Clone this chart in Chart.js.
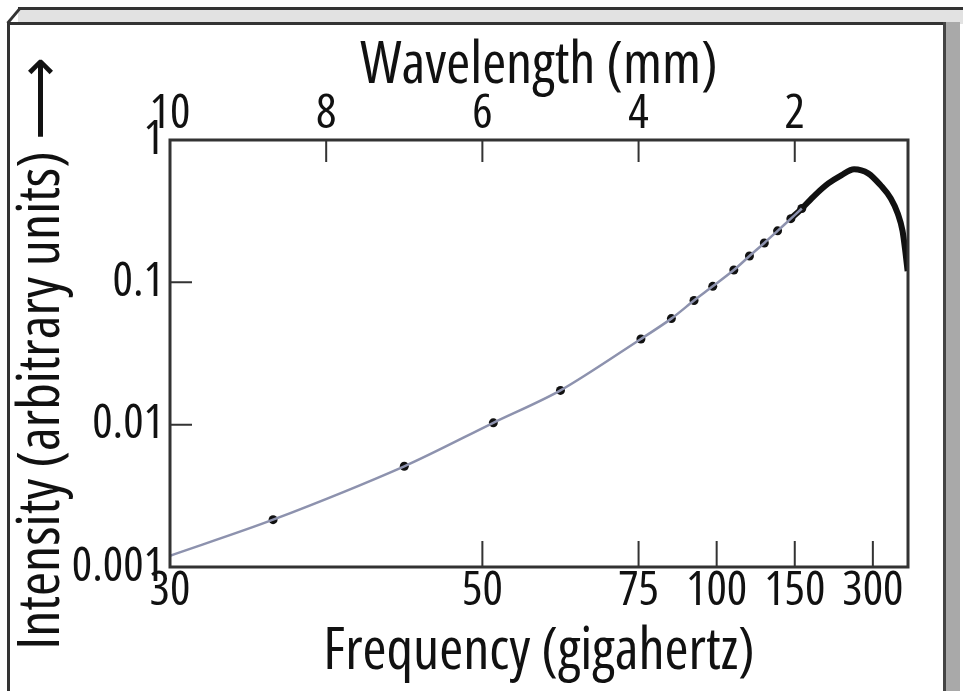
<!DOCTYPE html>
<html>
<head>
<meta charset="utf-8">
<script src="https://cdn.jsdelivr.net/npm/chart.js@4"></script>
<style>
  html, body { margin: 0; padding: 0; background: #fff; }
  #wrap { position: relative; width: 963px; height: 691px; overflow: hidden; }
  /* bevelled panel around the figure */
  .bevel-top { position: absolute; left: 18px; top: 7px; width: 945px; height: 14px; background: #e2e2e2; border-top: 3px solid #333; }
  .corner { position: absolute; left: 4px; top: 14px; width: 20px; height: 3px; background: #333; transform: rotate(-50deg); }
  .frame { position: absolute; left: 7px; top: 22px; width: 936px; height: 680px; border-left: 3px solid #333; border-top: 3px solid #333; }
  .bevel-right { position: absolute; left: 943px; top: 22px; width: 14px; height: 680px; background: #a9a9a9; border-left: 3px solid #444; }
  canvas { position: absolute; left: 0; top: 0; }
</style>
</head>
<body>
<div id="wrap">
  <div class="bevel-top"></div>
  <div class="corner"></div>
  <div class="frame"></div>
  <div class="bevel-right"></div>
  <canvas id="chart" width="963" height="691"></canvas>
</div>
<script>
// Axis ticks
const wavelengthTicks = [10, 8, 6, 4, 2];          // mm, top axis
const frequencyTicks = [30, 50, 75, 100, 150, 300]; // GHz, bottom axis
const intensityTicks = [1, 0.1, 0.01, 0.001];

// Thin curve with measured points (wavelength in mm)
const curveWavelength = [10, 8.68, 7.0, 5.86, 5.0, 3.97, 3.58, 3.29, 3.05, 2.78, 2.58, 2.39, 2.22, 2.05, 1.91];
const curveIntensity = [0.0012, 0.00215, 0.0051, 0.0103, 0.0174, 0.040, 0.0556, 0.0745, 0.0937, 0.122, 0.153, 0.189, 0.23, 0.28, 0.33];
const dotWavelength = [8.68, 7.0, 5.86, 5.0, 3.97, 3.58, 3.29, 3.05, 2.78, 2.58, 2.39, 2.22, 2.05, 1.91];
const dotIntensity = [0.00215, 0.0051, 0.0103, 0.0174, 0.040, 0.0556, 0.0745, 0.0937, 0.122, 0.153, 0.189, 0.23, 0.28, 0.33];

// Thick black section around the peak
const peakWavelength = [2.05, 1.91, 1.747, 1.57, 1.405, 1.24, 1.06, 0.90, 0.77, 0.68, 0.62, 0.58, 0.555];
const peakIntensity = [0.28, 0.33, 0.407, 0.495, 0.565, 0.623, 0.583, 0.48, 0.388, 0.303, 0.23, 0.158, 0.12];

const C_MM_GHZ = 300; // wavelength(mm) = 300 / frequency(GHz)

// The original uses a narrow sans; pick an installed narrow face and size it to fit
function pickFont() {
  const ctx = document.createElement('canvas').getContext('2d');
  const sample = 'Frequency (gigahertz)';
  const w = f => { ctx.font = f; return ctx.measureText(sample).width; };
  const candidates = [
    { family: "'Liberation Sans Narrow'", weight: 'normal' },
    { family: "'Arial Narrow'", weight: 'normal' },
    { family: "'Noto Sans'", weight: 'normal condensed' },
    { family: "'Open Sans'", weight: 'normal condensed' },
    { family: "'Liberation Sans'", weight: 'normal' }
  ];
  for (const c of candidates) {
    const base = w('56px ' + c.family + ', monospace');
    if (base === w('56px monospace')) continue;
    const width = w(c.weight + ' 56px ' + c.family + ', monospace');
    if (c.weight !== 'normal' && width > 0.96 * base) continue;
    return { family: c.family + ", 'Liberation Sans', sans-serif", weight: c.weight, ratio: width / 56 };
  }
  return { family: 'sans-serif', weight: 'normal', ratio: 8.5 };
}
const pick = pickFont();
const TITLE_SIZE = Math.min(58, Math.round(465 / pick.ratio));
const TICK_SIZE = Math.round(TITLE_SIZE * 0.82);
const titleFont = { family: pick.family, weight: pick.weight, size: TITLE_SIZE, lineHeight: 1 };
const tickFont = { family: pick.family, weight: pick.weight, size: TICK_SIZE, lineHeight: 1 };

const toPoints = (xs, ys) => xs.map((x, i) => ({ x: x, y: ys[i] }));

// Box around the plot and ticks pointing inwards
const insideTicks = {
  id: 'insideTicks',
  afterDatasetsDraw(chart) {
    const { ctx, chartArea: a, scales } = chart;
    ctx.save();
    ctx.strokeStyle = '#333';
    ctx.lineWidth = 3;
    ctx.strokeRect(a.left, a.top, a.right - a.left, a.bottom - a.top);
    ctx.lineWidth = 2;
    ctx.beginPath();
    scales.xTop.ticks.forEach(t => {
      const x = scales.xTop.getPixelForValue(t.value);
      ctx.moveTo(x, a.top); ctx.lineTo(x, a.top + 22);
    });
    scales.x.ticks.forEach(t => {
      const x = scales.x.getPixelForValue(t.value);
      ctx.moveTo(x, a.bottom); ctx.lineTo(x, a.bottom - 26);
    });
    scales.y.ticks.forEach(t => {
      const y = scales.y.getPixelForValue(t.value);
      ctx.moveTo(a.left, y); ctx.lineTo(a.left + 22, y);
    });
    ctx.stroke();
    ctx.restore();
  }
};

new Chart(document.getElementById('chart'), {
  type: 'line',
  data: {
    datasets: [
      {
        data: toPoints(curveWavelength, curveIntensity),
        borderColor: '#8d92ae',
        borderWidth: 2.5,
        pointRadius: 0,
        tension: 0.3,
        xAxisID: 'x'
      },
      {
        data: toPoints(dotWavelength, dotIntensity),
        showLine: false,
        pointRadius: 4.5,
        pointBackgroundColor: '#111',
        pointBorderWidth: 0,
        xAxisID: 'x'
      },
      {
        data: toPoints(peakWavelength, peakIntensity),
        borderColor: '#111',
        borderWidth: 6,
        pointRadius: 0,
        cubicInterpolationMode: 'monotone',
        xAxisID: 'x'
      }
    ]
  },
  options: {
    responsive: false,
    animation: false,
    devicePixelRatio: 1,
    layout: { padding: { top: 25, left: 8, right: 55, bottom: 0 } },
    plugins: { legend: { display: false }, tooltip: { enabled: false } },
    scales: {
      x: {
        type: 'linear',
        position: 'bottom',
        reverse: true,
        min: 0.55,
        max: 10,
        afterBuildTicks: s => { s.ticks = frequencyTicks.map(f => ({ value: C_MM_GHZ / f })); },
        afterFit: s => { s.height = 124; },
        grid: { display: false, drawTicks: false },
        border: { display: false },
        ticks: {
          autoSkip: false,
          maxRotation: 0,
          padding: Math.max(0, 23 - TICK_SIZE / 2),
          color: '#111',
          font: tickFont,
          callback: v => String(Math.round(C_MM_GHZ / v))
        },
        title: {
          display: true,
          text: 'Frequency (gigahertz)',
          color: '#111',
          padding: { top: 0, bottom: Math.max(0, 39 - TITLE_SIZE / 2) },
          font: titleFont
        }
      },
      xTop: {
        type: 'linear',
        position: 'top',
        reverse: true,
        min: 0.55,
        max: 10,
        afterBuildTicks: s => { s.ticks = wavelengthTicks.map(w => ({ value: w })); },
        afterFit: s => { s.height = 115; },
        grid: { display: false, drawTicks: false },
        border: { display: false },
        ticks: {
          autoSkip: false,
          maxRotation: 0,
          padding: Math.max(0, 26 - TICK_SIZE / 2),
          color: '#111',
          font: tickFont,
          callback: v => String(v)
        },
        title: {
          display: true,
          text: 'Wavelength (mm)',
          color: '#111',
          padding: { top: Math.max(0, 41 - TITLE_SIZE / 2), bottom: 0 },
          font: titleFont
        }
      },
      y: {
        type: 'logarithmic',
        min: 0.001,
        max: 1,
        afterBuildTicks: s => { s.ticks = intensityTicks.map(v => ({ value: v })); },
        afterFit: s => { s.width = 162; },
        grid: { display: false, drawTicks: false },
        border: { display: false },
        ticks: {
          padding: 6,
          color: '#111',
          font: tickFont,
          callback: v => String(v)
        },
        title: {
          display: true,
          text: 'Intensity (arbitrary units) \u27F6',
          color: '#111',
          padding: { top: Math.max(0, 34 - TITLE_SIZE / 2) },
          font: titleFont
        }
      }
    }
  },
  plugins: [insideTicks]
});
</script>
</body>
</html>
